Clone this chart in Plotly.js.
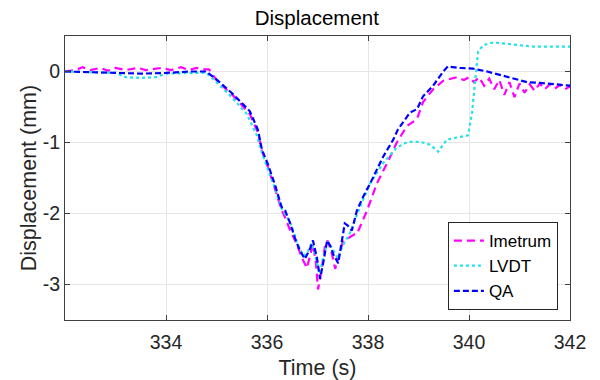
<!DOCTYPE html>
<html>
<head>
<meta charset="utf-8">
<script src="https://cdn.plot.ly/plotly-3.0.1.min.js"></script>
<style>html,body{margin:0;padding:0;background:#fff;}#chart{width:600px;height:380px;}</style>
</head>
<body>
<div id="chart"></div>
<script>
// Imetrum series
var imetrumT = [332.0, 332.2, 332.35, 332.5, 332.7, 332.85, 333.0, 333.2, 333.45, 333.6, 333.9, 334.1, 334.3, 334.45, 334.6, 334.75, 334.85, 335.03, 335.33, 335.66, 335.82, 335.9, 336.02, 336.16, 336.29, 336.36, 336.46, 336.59, 336.69, 336.79, 336.85, 336.91, 336.97, 337.01, 337.08, 337.15, 337.2, 337.28, 337.35, 337.42, 337.5, 337.6, 337.74, 337.78, 337.98, 338.18, 338.38, 338.57, 338.77, 338.97, 339.09, 339.29, 339.49, 339.76, 339.9, 340.0, 340.1, 340.2, 340.3, 340.4, 340.5, 340.6, 340.7, 340.8, 340.9, 341.0, 341.1, 341.2, 341.3, 341.4, 341.5, 341.6, 341.7, 341.8, 341.9, 342.0];
var imetrumY = [0.0, 0.02, 0.06, 0.02, 0.05, 0.01, 0.05, 0.02, 0.05, 0.02, 0.05, 0.02, 0.06, 0.02, 0.05, 0.03, 0.03, -0.15, -0.34, -0.6, -0.86, -1.12, -1.35, -1.65, -1.95, -2.06, -2.24, -2.43, -2.62, -2.77, -2.6, -2.43, -2.7, -3.07, -2.8, -2.45, -2.38, -2.55, -2.78, -2.6, -2.4, -2.35, -2.29, -2.29, -1.96, -1.57, -1.29, -1.0, -0.77, -0.67, -0.43, -0.25, -0.13, -0.08, -0.12, -0.08, -0.15, -0.08, -0.2, -0.1, -0.25, -0.12, -0.33, -0.15, -0.36, -0.17, -0.3, -0.18, -0.27, -0.17, -0.25, -0.18, -0.24, -0.19, -0.25, -0.21];

// LVDT series
var lvdtT = [332.0, 332.5, 333.0, 333.2, 333.5, 333.8, 334.0, 334.5, 334.8, 335.0, 335.3, 335.6, 335.8, 335.9, 336.02, 336.16, 336.29, 336.4, 336.5, 336.6, 336.72, 336.8, 336.88, 336.96, 337.04, 337.12, 337.2, 337.3, 337.4, 337.5, 337.64, 337.84, 338.04, 338.3, 338.57, 338.79, 339.03, 339.23, 339.39, 339.56, 339.76, 339.98, 340.06, 340.12, 340.18, 340.28, 340.48, 340.75, 341.01, 341.27, 341.6, 342.0];
var lvdtY = [0.0, -0.01, -0.02, -0.08, -0.09, -0.08, -0.03, -0.02, -0.02, -0.15, -0.36, -0.6, -0.9, -1.15, -1.38, -1.65, -1.93, -2.05, -2.2, -2.42, -2.6, -2.55, -2.42, -2.6, -2.85, -2.6, -2.4, -2.5, -2.63, -2.45, -2.28, -1.91, -1.58, -1.29, -1.07, -0.99, -0.99, -1.03, -1.13, -0.96, -0.93, -0.9, -0.58, -0.15, 0.28, 0.37, 0.41, 0.39, 0.37, 0.35, 0.35, 0.35];

// QA series
var qaT = [332.0, 332.5, 333.0, 333.5, 334.0, 334.5, 334.8, 335.03, 335.33, 335.66, 335.82, 335.9, 336.02, 336.16, 336.29, 336.36, 336.46, 336.55, 336.65, 336.75, 336.85, 336.91, 336.99, 337.05, 337.11, 337.19, 337.25, 337.31, 337.41, 337.49, 337.54, 337.6, 337.68, 337.78, 337.9, 338.04, 338.3, 338.5, 338.59, 338.83, 338.97, 339.09, 339.29, 339.49, 339.58, 339.82, 340.08, 340.36, 340.75, 341.15, 341.41, 341.66, 341.96, 342.0];
var qaY = [0.0, -0.01, -0.02, -0.03, -0.02, 0.0, 0.0, -0.13, -0.32, -0.56, -0.82, -1.1, -1.31, -1.6, -1.91, -1.96, -2.14, -2.34, -2.52, -2.64, -2.5, -2.38, -2.63, -2.92, -2.71, -2.38, -2.45, -2.57, -2.7, -2.38, -2.14, -2.17, -2.24, -1.96, -1.77, -1.58, -1.2, -0.96, -0.82, -0.58, -0.53, -0.35, -0.2, 0.0, 0.07, 0.05, 0.04, 0.0, -0.07, -0.15, -0.16, -0.18, -0.2, -0.2];

var seriesNames = ['Imetrum', 'LVDT', 'QA'];
var xTicks = [334, 336, 338, 340, 342];
var yTicks = [-3, -2, -1, 0];

var FONT = 'Liberation Sans, Arial, Helvetica, sans-serif';
var traces = [
  {x: imetrumT, y: imetrumY, name: seriesNames[0], mode: 'lines',
   line: {color: '#ff00ff', width: 2.2, dash: '8px,5px'}},
  {x: lvdtT, y: lvdtY, name: seriesNames[1], mode: 'lines',
   line: {color: '#1fe3e8', width: 2.2, dash: 'dot'}},
  {x: qaT, y: qaY, name: seriesNames[2], mode: 'lines',
   line: {color: '#0000ff', width: 2.2, dash: '6px,3px'}}
];

var axisCommon = {
  showline: true, linecolor: '#404040', linewidth: 1, mirror: 'ticks',
  ticks: 'inside', ticklen: 5, tickcolor: '#404040',
  showgrid: true, gridcolor: '#e6e6e6', gridwidth: 1,
  zeroline: false,
  tickfont: {family: FONT, size: 19.5, color: '#262626'}
};

var layout = {
  width: 600, height: 380,
  margin: {l: 65, r: 30, t: 36, b: 60},
  paper_bgcolor: '#ffffff', plot_bgcolor: '#ffffff',
  font: {family: FONT, color: '#262626'},
  title: {text: 'Displacement', font: {family: FONT, size: 20.5, color: '#000000'}, x: 0.528, xanchor: 'center', y: 0.952, yanchor: 'middle'},
  xaxis: Object.assign({}, axisCommon, {
    range: [332, 342], tickvals: xTicks, ticktext: xTicks.map(String),
    automargin: false, ticklabelstandoff: 5,
    title: {text: 'Time (s)', font: {family: FONT, size: 21.5, color: '#262626'}}
  }),
  yaxis: Object.assign({}, axisCommon, {
    range: [-3.5, 0.5], tickvals: yTicks, ticktext: yTicks.map(String),
    automargin: true,
    title: {text: 'Displacement (mm)', font: {family: FONT, size: 21.5, color: '#262626'}, standoff: 0}
  }),
  showlegend: true,
  legend: {x: 0.976, xanchor: 'right', y: 0.035, yanchor: 'bottom',
    bgcolor: '#ffffff', bordercolor: '#262626', borderwidth: 1,
    font: {family: FONT, size: 17, color: '#000000'}, tracegroupgap: 0, itemwidth: 30}
};

Plotly.newPlot('chart', traces, layout, {displayModeBar: false, staticPlot: true});
</script>
</body>
</html>
